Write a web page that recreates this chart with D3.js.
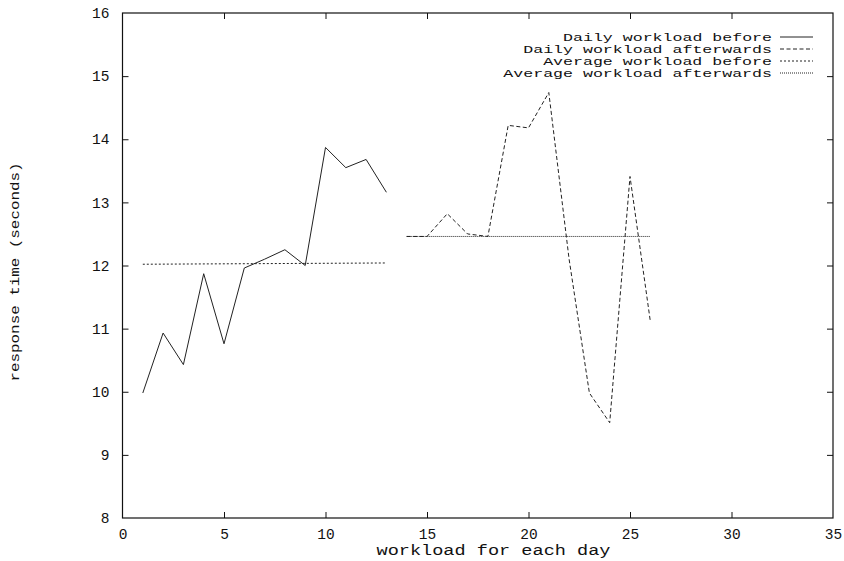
<!DOCTYPE html>
<html>
<head>
<meta charset="utf-8">
<script src="https://cdn.jsdelivr.net/npm/d3@7.9.0/dist/d3.min.js"></script>
<style>
  body { margin: 0; background: #fff; }
  svg text { font-family: "Liberation Mono", "DejaVu Sans Mono", monospace; fill: #111; }
</style>
</head>
<body>
<svg id="chart" width="844" height="561"></svg>
<script>
// data
const daysBefore = [1, 2, 3, 4, 5, 6, 7, 8, 9, 10, 11, 12, 13];
const dailyBefore = [9.98, 10.93, 10.43, 11.87, 10.76, 11.96, 12.1, 12.25, 12.0, 13.87, 13.55, 13.68, 13.16];
const daysAfter = [14, 15, 16, 17, 18, 19, 20, 21, 22, 23, 24, 25, 26];
const dailyAfter = [12.46, 12.46, 12.82, 12.5, 12.46, 14.22, 14.18, 14.74, 12.1, 9.98, 9.51, 13.41, 11.12];
const avgBeforeDays = [1, 13];
const avgBefore = [12.02, 12.04];
const avgAfterDays = [14, 26];
const avgAfter = [12.46, 12.46];
const xTicks = [0, 5, 10, 15, 20, 25, 30, 35];
const yTicks = [8, 9, 10, 11, 12, 13, 14, 15, 16];
const legendLabels = ['Daily workload before', 'Daily workload afterwards', 'Average workload before', 'Average workload afterwards'];

const svg = d3.select('#chart');
const plotL = 122.5, plotR = 833, plotT = 13, plotB = 518;

let x = d3.scaleLinear().domain([0, 35]).range([plotL, plotR]);
let y = d3.scaleLinear().domain([8, 16]).range([plotB, plotT]);

// frame
svg.append('rect')
  .attr('x', plotL).attr('y', plotT)
  .attr('width', plotR - plotL).attr('height', plotB - plotT)
  .attr('fill', 'none').attr('stroke', '#111').attr('stroke-width', 1.2);

// axes with inward ticks, mirrored on top/right
let tick = 6;
let xAxis = svg.append('g').attr('transform', `translate(0,${plotB})`)
  .call(d3.axisBottom(x).tickValues(xTicks).tickSizeInner(-tick).tickSizeOuter(0).tickPadding(11));
let xTop = svg.append('g').attr('transform', `translate(0,${plotT})`)
  .call(d3.axisTop(x).tickValues(xTicks).tickSizeInner(-tick).tickSizeOuter(0).tickFormat(''));
let yAxis = svg.append('g').attr('transform', `translate(${plotL},0)`)
  .call(d3.axisLeft(y).tickValues(yTicks).tickSizeInner(-tick).tickSizeOuter(0).tickPadding(13));
let yRight = svg.append('g').attr('transform', `translate(${plotR},0)`)
  .call(d3.axisRight(y).tickValues(yTicks).tickSizeInner(-tick).tickSizeOuter(0).tickFormat(''));

[xAxis, xTop, yAxis, yRight].forEach(g => {
  g.select('.domain').remove();
  g.selectAll('line').attr('stroke', '#111');
  g.selectAll('text').style('font-size', '14.5px').attr('fill', '#111');
});
// first/last ticks sit on the frame already
[xAxis, xTop].forEach(g => g.selectAll('.tick line').filter(d => d === 0 || d === 35).remove());
[yAxis, yRight].forEach(g => g.selectAll('.tick line').filter(d => d === 8 || d === 16).remove());

// axis titles (squat, wide monospace like the original)
svg.append('text')
  .attr('x', 493.5).attr('y', 555)
  .attr('text-anchor', 'middle')
  .style('font-size', '14px')
  .attr('textLength', 234)
  .attr('lengthAdjust', 'spacingAndGlyphs')
  .text('workload for each day');

svg.append('text')
  .attr('transform', 'translate(19,272) rotate(-90)')
  .attr('text-anchor', 'middle')
  .style('font-size', '13.5px')
  .attr('textLength', 219)
  .attr('lengthAdjust', 'spacingAndGlyphs')
  .text('response time (seconds)');

// series
let line = d3.line().x(d => x(d[0])).y(d => y(d[1]));
const series = [
  { days: daysBefore, vals: dailyBefore, dash: null },
  { days: daysAfter, vals: dailyAfter, dash: '4,2.5' },
  { days: avgBeforeDays, vals: avgBefore, dash: '2,2' },
  { days: avgAfterDays, vals: avgAfter, dash: '1,1' }
];

series.forEach(s => {
  svg.append('path')
    .attr('d', line(d3.zip(s.days, s.vals)))
    .attr('fill', 'none')
    .attr('stroke', '#222')
    .attr('stroke-width', 1)
    .attr('stroke-dasharray', s.dash);
});

// legend
let legend = svg.append('g');
let rowY = [37, 49, 61, 73];
legendLabels.forEach((label, i) => {
  legend.append('text')
    .attr('x', 772).attr('y', rowY[i] + 4)
    .attr('text-anchor', 'end')
    .style('font-size', '10.5px')
    .attr('textLength', label.length * 9.95)
    .attr('lengthAdjust', 'spacingAndGlyphs')
    .text(label);
  legend.append('line')
    .attr('x1', 780).attr('x2', 813)
    .attr('y1', rowY[i]).attr('y2', rowY[i])
    .attr('stroke', '#222').attr('stroke-width', 1)
    .attr('stroke-dasharray', series[i].dash);
});
</script>
</body>
</html>
